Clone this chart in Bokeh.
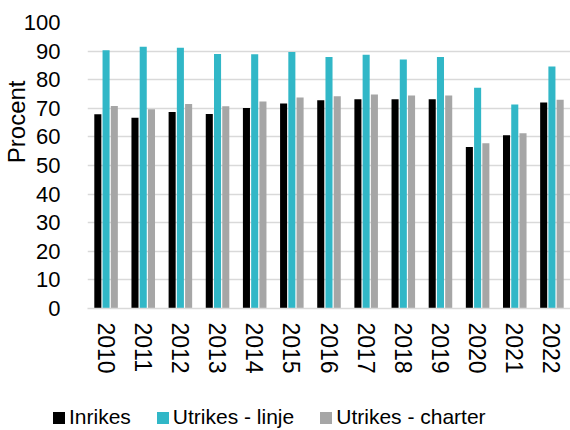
from bokeh.plotting import figure
from bokeh.models import ColumnDataSource, FactorRange, Range1d, FixedTicker, Legend, LegendItem, Title
from bokeh.layouts import column, row
from bokeh.transform import dodge
from bokeh.embed import file_html
from bokeh.resources import INLINE

years = ["2010", "2011", "2012", "2013", "2014", "2015", "2016",
         "2017", "2018", "2019", "2020", "2021", "2022"]
inrikes = [67.9, 66.7, 68.7, 68.0, 70.1, 71.7, 72.8, 73.2, 73.2, 73.2, 56.5, 60.6, 72.0]
utrikes_linje = [90.3, 91.5, 91.2, 89.0, 88.9, 89.7, 87.9, 88.7, 87.1, 87.9, 77.2, 71.3, 84.6]
utrikes_charter = [70.8, 69.7, 71.5, 70.7, 72.4, 73.8, 74.2, 74.8, 74.5, 74.5, 57.8, 61.3, 73.0]
y_ticks = [0, 10, 20, 30, 40, 50, 60, 70, 80, 90, 100]
series_names = ["Inrikes", "Utrikes - linje", "Utrikes - charter"]
colors = ["#000000", "#31B7C7", "#A6A6A6"]

src = ColumnDataSource(dict(year=years, a=inrikes, b=utrikes_linje, c=utrikes_charter))

FONT = "Liberation Sans"

p = figure(width=570, height=386, x_range=FactorRange(*years), y_range=Range1d(0, 100),
           output_backend="svg", toolbar_location=None,
           min_border_left=87, min_border_right=0, min_border_top=22, min_border_bottom=78)
p.outline_line_color = None

w = 0.19
for field, off, col in zip(["a", "b", "c"], [-0.222, 0.0, 0.222], colors):
    p.vbar(x=dodge("year", off, range=p.x_range), top=field, width=w, source=src,
           fill_color=col, line_color=None)

p.xgrid.grid_line_color = None
p.ygrid.grid_line_color = "#D9D9D9"
p.ygrid.grid_line_width = 1.5
p.yaxis.ticker = FixedTicker(ticks=y_ticks)

for ax in (p.xaxis, p.yaxis):
    ax.axis_line_color = None
    ax.major_tick_line_color = None
    ax.minor_tick_line_color = None
    ax.major_label_text_font = FONT
    ax.major_label_text_color = "#000000"

p.yaxis.major_label_text_font_size = "22px"
p.xaxis.major_label_text_font_size = "23px"
p.xaxis.axis_line_color = "#D9D9D9"
p.xaxis.axis_line_width = 1.5
p.xaxis.major_label_orientation = "vertical"
p.xaxis.major_label_standoff = 8
p.yaxis.major_label_standoff = 21

ytitle = Title(text="Procent", align="right", offset=58, text_font=FONT,
               text_font_size="24px", text_font_style="normal", text_color="#000000",
               standoff=-19)
p.add_layout(ytitle, "left")

# legend figure
lf = figure(width=570, height=44, x_range=Range1d(0, 1), y_range=Range1d(0, 1),
            output_backend="svg", toolbar_location=None,
            x_axis_location=None, y_axis_location=None,
            min_border_left=0, min_border_right=0, min_border_top=0, min_border_bottom=0)
lf.grid.visible = False
lf.outline_line_color = None
items = []
for name, col in zip(series_names, colors):
    r = lf.vbar(x=[5], top=[5], bottom=[4], width=0.1, fill_color=col, line_color=None)
    items.append(LegendItem(label=name, renderers=[r]))

legend = Legend(items=items, orientation="horizontal", location=(51, 1),
                label_text_font=FONT, label_text_font_size="21px",
                label_text_color="#000000",
                glyph_width=15, glyph_height=15, spacing=24, label_standoff=3,
                border_line_color=None, background_fill_alpha=0,
                margin=0, padding=0)
lf.add_layout(legend, "center")

open("out.html", "w").write(file_html(column(p, row(lf), spacing=0), INLINE))
